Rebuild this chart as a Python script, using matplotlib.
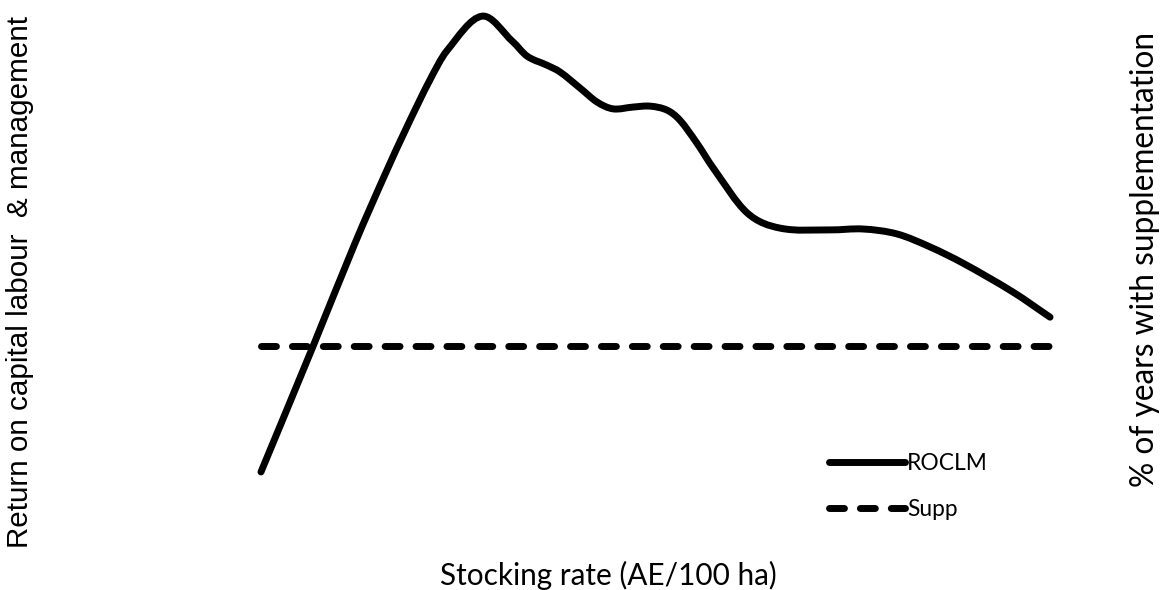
import matplotlib
matplotlib.use("Agg")
import matplotlib.pyplot as plt
from matplotlib.path import Path
from matplotlib.patches import PathPatch
from matplotlib.lines import Line2D
import numpy as np

# ---- data ----
stocking_rate = [4.00, 5.31, 6.38, 7.14, 7.69, 8.27, 8.70, 9.59,
                 10.37, 10.73, 11.23, 11.56, 12.07, 12.50, 12.90, 13.41, 13.84,
                 14.27, 14.59, 15.02, 15.43, 16.29, 17.12, 18.39, 19.22, 20.08,
                 20.92, 21.75, 23.01, 23.95]
roclm = [-28.0, -0.2, 22.9, 38.2, 48.7, 59.1, 65.6, 73.3,
         67.6, 64.4, 62.4, 60.9, 57.3, 54.2, 52.7, 53.1, 53.3,
         52.4, 50.2, 45.1, 39.6, 29.6, 26.2, 25.8, 26.0, 24.9,
         22.0, 18.4, 12.0, 6.4]
supp_x = [4.0, 23.95]
supp_pct = [30.0, 30.0]

labels = ["ROCLM", "Supp"]
xlabel = "Stocking rate (AE/100 ha)"
ylabel_left = "Return on capital labour  & management"
ylabel_right = "% of years with supplementation"

# ---- figure ----
W, H = 1168, 590
fig = plt.figure(figsize=(W / 100, H / 100), dpi=100)

ax_left_px, ax_right_px = 241.2, 1071.8
ax_top_px, ax_bot_px = 0.0, 520.0
ax = fig.add_axes([ax_left_px / W, (H - ax_bot_px) / H,
                   (ax_right_px - ax_left_px) / W, (ax_bot_px - ax_top_px) / H])
ax.set_xlim(3.5, 24.5)
ax.set_ylim(-38.67, 76.89)
ax.axis("off")

ax2 = ax.twinx()
frac = (ax_bot_px - 346.0) / (ax_bot_px - ax_top_px)
ax2.set_ylim(supp_pct[0] - frac * 100, supp_pct[0] - frac * 100 + 100)
ax2.axis("off")

LW = 5.0

# smoothed line: cubic Hermite (bezier) through the data points
xs = np.asarray(stocking_rate, float)
ys = np.asarray(roclm, float)
n = len(xs)
m = np.empty(n)
m[0] = (ys[1] - ys[0]) / (xs[1] - xs[0])
m[-1] = (ys[-1] - ys[-2]) / (xs[-1] - xs[-2])
for i in range(1, n - 1):
    m[i] = (ys[i + 1] - ys[i - 1]) / (xs[i + 1] - xs[i - 1])
verts = [(xs[0], ys[0])]
codes = [Path.MOVETO]
for i in range(n - 1):
    h = xs[i + 1] - xs[i]
    verts += [(xs[i] + h / 3, ys[i] + m[i] * h / 3),
              (xs[i + 1] - h / 3, ys[i + 1] - m[i + 1] * h / 3),
              (xs[i + 1], ys[i + 1])]
    codes += [Path.CURVE4] * 3
patch = PathPatch(Path(verts, codes), facecolor="none", edgecolor="black",
                  lw=LW, capstyle="round", joinstyle="round")
ax.add_patch(patch)

dash = (0, (2.15, 2.3))
ax2.plot(supp_x, supp_pct, color="black", lw=LW, linestyle=dash,
         dash_capstyle="round")

handles = [Line2D([], [], color="black", lw=LW, solid_capstyle="round"),
           Line2D([], [], color="black", lw=LW, linestyle=dash, dash_capstyle="round")]
leg = fig.legend(handles, labels, loc="upper left",
                 bbox_to_anchor=(818 / W, 1 - 442 / H), frameon=False,
                 prop={"family": "Lato", "size": 16.4}, handlelength=3.3,
                 handletextpad=0.1, labelspacing=1.1, borderpad=0.0)

fig.text(20 / W, 1 - 282 / H, ylabel_left, rotation=90, ha="center", va="center",
         family="Liberation Sans", fontsize=21.3)
fig.text(1145 / W, 1 - 259 / H, ylabel_right, rotation=90, ha="center", va="center",
         family="Lato", fontsize=22.8)
fig.text(608 / W, 1 - 575 / H, xlabel, ha="center", va="center",
         family="Lato", fontsize=21.4)

fig.savefig("out.png", dpi=100, facecolor="white")
